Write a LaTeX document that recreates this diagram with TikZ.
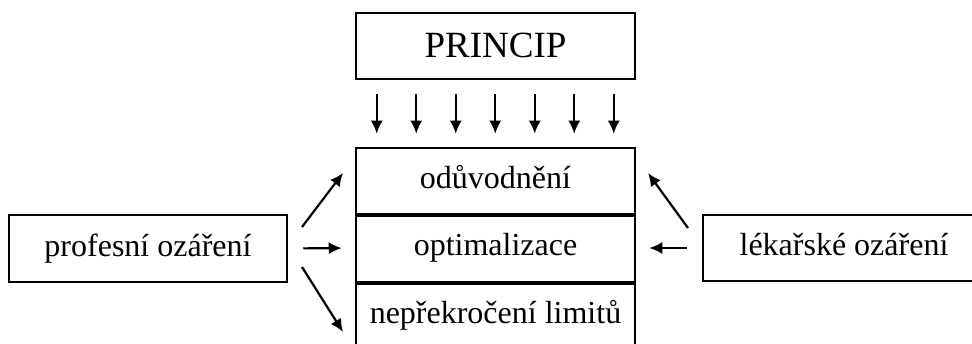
\documentclass[tikz,border=0pt]{standalone}
\usepackage{fontspec}
\setmainfont{Liberation Serif}
\usetikzlibrary{arrows.meta,calc}
\tikzset{
  box/.style={draw, line width=2.5pt, inner sep=0pt, text height=22pt, text depth=6.5pt,
    font=\fontsize{32}{38}\selectfont},
  arr/.style={line width=2.2pt, -{Latex[length=13pt,width=12pt]}},
  divider/.style={line width=3.5pt}
}
\begin{document}
\begin{tikzpicture}[x=1pt,y=-1pt]
\useasboundingbox (0,0) rectangle (972,344);
\clip (0,0) rectangle (972,344);
\fill[white] (0,0) rectangle (972,344);
% top box
\node[box, minimum width=279pt, minimum height=66pt, font=\fontsize{37}{44}\selectfont, text height=26pt, text depth=2pt] (princip) at (495.5,46) {PRINCIP};
% central column
\node[box, minimum width=279pt, minimum height=66pt] (odu) at (495.5,181) {odůvodnění};
\node[box, minimum width=279pt, minimum height=68pt] (opt) at (495.5,248) {optimalizace};
\node[box, minimum width=279pt, minimum height=67pt] (nep) at (495.5,315.5) {nepřekročení limitů};
\draw[divider] (odu.south west) -- (odu.south east);
\draw[divider] (opt.south west) -- (opt.south east);
% side boxes
\node[box, minimum width=278pt, minimum height=67pt] (prof) at (148,248.5) {profesní ozáření};
\node[box, minimum width=282pt, minimum height=66pt] (lek) at (844,248) {lékařské ozáření};
% down arrows
\foreach \i in {0,...,6}{
  \coordinate (d\i s) at ($(princip.south west)+(22+\i*39.5,14)$);
  \coordinate (d\i e) at ($(odu.north west)+(22+\i*39.5,-13)$);
  \draw[arr] (d\i s) -- (d\i e);
}
% left arrows
\coordinate (pl1s) at (302,227); \coordinate (pl1e) at (343,173);
\coordinate (pl3s) at (302,267); \coordinate (pl3e) at (343,332);
\draw[arr] (pl1s) -- (pl1e);
\draw[arr, shorten <=15pt, shorten >=13pt] (prof.east) -- (opt.west);
\draw[arr] (pl3s) -- (pl3e);
% right arrows
\coordinate (pr1s) at (688,228); \coordinate (pr1e) at (648,173);
\draw[arr] (pr1s) -- (pr1e);
\draw[arr, shorten <=15pt, shorten >=13pt] (lek.west) -- (opt.east);
\end{tikzpicture}
\end{document}
